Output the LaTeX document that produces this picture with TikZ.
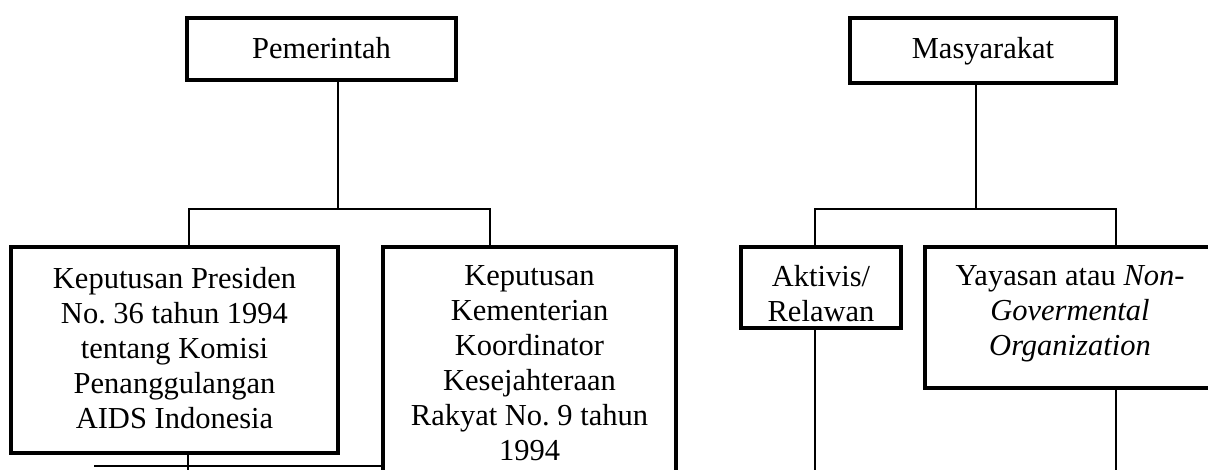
\documentclass[tikz,border=0pt]{standalone}
\usepackage{fontspec}
\setmainfont{Liberation Serif}
\frenchspacing
\begin{document}
\begin{tikzpicture}[x=1pt,y=-1pt,
  box/.style={draw,line width=4pt,inner sep=0pt,rectangle},
  txt/.style={inner sep=0pt,align=center,font=\fontsize{30.5}{35}\selectfont},
  conn/.style={line width=1.8pt}]
\useasboundingbox (0,0) rectangle (1208,469);
\clip (0,0) rectangle (1208,469);
% boxes
\node[box,minimum width=269pt,minimum height=62pt] (pem) at (321.5,49) {};
\node[box,minimum width=266pt,minimum height=65pt] (mas) at (983,50.5) {};
\node[box,minimum width=327pt,minimum height=206pt] (kp) at (174.5,350) {};
\node[box,minimum width=293pt,minimum height=253pt] (kk) at (529.5,373.5) {};
\node[box,minimum width=160pt,minimum height=81pt] (akt) at (821,287.5) {};
\node[box,minimum width=290pt,minimum height=141pt] (yay) at (1070,317.5) {};
% texts
\node[txt,anchor=base] (pemt) at (321.5,58) {Pemerintah};
\node[txt,anchor=base] (mast) at (983,58) {Masyarakat};
\node[txt,anchor=north] (kpt) at (174.5,267) {Keputusan Presiden\\No. 36 tahun 1994\\tentang Komisi\\Penanggulangan\\AIDS Indonesia};
\node[txt,anchor=north] (kkt) at (529.5,265) {Keputusan\\Kementerian\\Koordinator\\Kesejahteraan\\Rakyat No. 9 tahun\\1994};
\node[txt,anchor=north] (aktt) at (821,265) {Aktivis/\\Relawan};
\node[txt,anchor=north] (yayt) at (1070,265.8) {Yayasan atau \textit{Non-}\\\textit{Govermental}\\\textit{Organization}};
% junction coordinates
\coordinate (pj) at (338,209);
\coordinate (pl) at (189,209);
\coordinate (pr) at (490,209);
\coordinate (mj) at (976,209);
\coordinate (ml) at (815,209);
\coordinate (mr) at (1116,209);
\coordinate (aend) at (815,475);
\coordinate (yend) at (1116,475);
\coordinate (kpend) at (188,475);
\coordinate (hl) at (94,466);
% connectors
\draw[conn] (pj |- pem.south) -- (pj);
\draw[conn] (pl |- kp.north) -- (pl) -- (pr) -- (pr |- kk.north);
\draw[conn] (mj |- mas.south) -- (mj);
\draw[conn] (ml |- akt.north) -- (ml) -- (mr) -- (mr |- yay.north);
\draw[conn] (aend |- akt.south) -- (aend);
\draw[conn] (yend |- yay.south) -- (yend);
\draw[conn] (kpend |- kp.south) -- (kpend);
\draw[line width=2.2pt] (hl) -- (hl -| kk.west);
\end{tikzpicture}
\end{document}
